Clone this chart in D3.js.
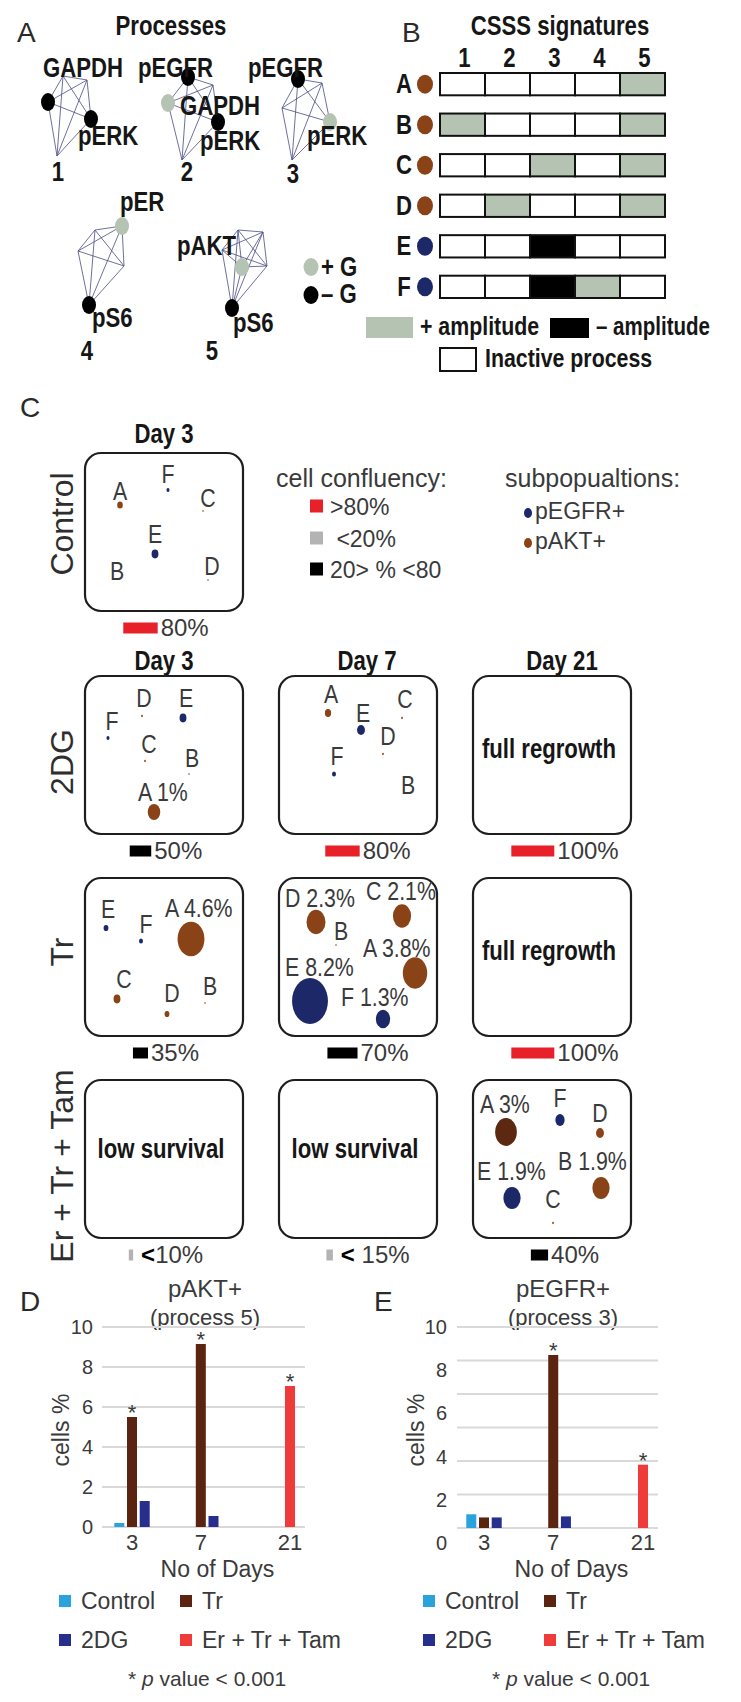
<!DOCTYPE html>
<html>
<head>
<meta charset="utf-8">
<script src="https://cdn.jsdelivr.net/npm/d3@7"></script>
<style>
  body { margin: 0; background: #fff; }
  svg { display: block; font-family: 'Liberation Sans', Arial, sans-serif; }
</style>
</head>
<body>
<script>
// ---------- data ----------
// A: processes and the markers in each one (sign of the G weight)
const processIds = ['1', '2', '3', '4', '5']
const processMarkers = [
  [['GAPDH', '-'], ['pERK', '-']],
  [['pEGFR', '-'], ['GAPDH', '+'], ['pERK', '-']],
  [['pEGFR', '-'], ['pERK', '+']],
  [['pER', '+'], ['pS6', '-']],
  [['pAKT', '+'], ['pS6', '-']]
]

// B: CSSS signatures, 1 = + amplitude, -1 = - amplitude, 0 = inactive
const subpops = ['A', 'B', 'C', 'D', 'E', 'F']
const subpopKind = ['pAKT+', 'pAKT+', 'pAKT+', 'pAKT+', 'pEGFR+', 'pEGFR+']
const signatures = [
  [0, 0, 0, 0, 1],
  [1, 0, 0, 0, 1],
  [0, 0, 1, 0, 1],
  [0, 1, 0, 0, 1],
  [0, 0, -1, 0, 0],
  [0, 0, -1, 1, 0]
]

// C: treatments x days, confluency (%) and subpopulation shares (% cells, order A..F)
const treatments = ['Control', '2DG', 'Tr', 'Er + Tr + Tam']
const dayLabels = ['Day 3', 'Day 7', 'Day 21']
const confluency = [[80], [50, 80, 100], [35, 70, 100], [10, 15, 40]]
const confluencyText = [['80%'], ['50%', '80%', '100%'], ['35%', '70%', '100%'], ['<10%', '< 15%', '40%']]
const wellNotes = [[null], [null, null, 'full regrowth'], [null, null, 'full regrowth'], ['low survival', 'low survival', null]]
const ctrlDay3 = [0.2, 0, 0.01, 0.01, 0.3, 0.06]
const dgDay3 = [1, 0.005, 0.02, 0.02, 0.3, 0.06]
const dgDay7 = [0.25, 0, 0.02, 0.02, 0.4, 0.1]
const trDay3 = [4.6, 0.01, 0.3, 0.15, 0.15, 0.1]
const trDay7 = [3.8, 0.01, 2.1, 2.3, 8.2, 1.3]
const ettDay21 = [3, 1.9, 0.02, 0.4, 1.9, 0.55]

// D / E: cells % per day and treatment (null = not measured)
const days = [3, 7, 21]
const seriesNames = ['Control', 'Tr', '2DG', 'Er + Tr + Tam']
const aktControl = [0.2, 0, null]
const aktTr = [5.5, 9.15, null]
const akt2DG = [1.3, 0.55, null]
const aktEtt = [null, null, 7.05]
const egfrControl = [0.65, 0, null]
const egfrTr = [0.5, 8.2, null]
const egfr2DG = [0.5, 0.55, null]
const egfrEtt = [null, null, 3.0]
const aktStars = [['Tr', 3], ['Tr', 7], ['Er + Tr + Tam', 21]]
const egfrStars = [['Tr', 7], ['Er + Tr + Tam', 21]]

// ---------- layout ----------
const W = 741, H = 1702
const green = '#b5c3b3', brown = '#8a4217', deepBrown = '#5c2811', navy = '#1d2868'
const red = '#e8202a', grey = '#b3b3b3'
const textDark = '#161616', textSoft = '#3a3a3a'

// condensed face if the narrow Liberation cut is there, else squeeze the regular one
const probe = document.createElement('canvas').getContext('2d')
const probeWidth = f => { probe.font = `40px ${f}`; return probe.measureText('abcdefghijklmnopqrstuvwxyz').width }
const hasNarrow = probeWidth("'Liberation Sans Narrow', monospace") !== probeWidth('monospace')
const NARROW = hasNarrow ? "'Liberation Sans Narrow', 'Liberation Sans', sans-serif" : "'Liberation Sans', sans-serif"
const condense = sel => {
  sel.attr('font-family', NARROW)
  if (!hasNarrow) sel.each(function () {
    this.setAttribute('textLength', this.getComputedTextLength() * 0.82)
    this.setAttribute('lengthAdjust', 'spacingAndGlyphs')
  })
  return sel
}

const svg = d3.select('body').append('svg')
  .attr('width', W).attr('height', H).attr('viewBox', `0 0 ${W} ${H}`)
svg.append('rect').attr('width', W).attr('height', H).attr('fill', '#fff')

const text = (g, x, y, s, o = {}) => {
  const t = g.append('text')
    .attr('x', x).attr('y', y)
    .attr('font-size', o.size || (o.narrow ? 27 : 22))
    .attr('font-weight', o.bold ? 700 : 400)
    .attr('text-anchor', o.anchor || 'start')
    .attr('fill', o.fill || (o.bold ? textDark : textSoft))
    .text(s)
  return o.narrow ? condense(t) : t
}
const bold = (g, x, y, s, anchor, size) => text(g, x, y, s, { bold: true, narrow: true, anchor, size })

// panel letters
;[['A', 17, 42], ['B', 402, 42], ['C', 20, 417], ['D', 20, 1311], ['E', 374, 1311]]
  .forEach(([s, x, y]) => text(svg, x, y, s, { size: 28, fill: '#2a2a2a' }))

// ---------- A: process networks ----------
const netLayout = [
  { verts: [[48, 102, 0], [63, 76], [87, 80], [91, 119, 1], [57, 156]], labels: [[43, 77], [78, 145]], id: [58, 181] },
  { verts: [[188, 77, 0], [213, 85], [168, 103, 1], [218, 122, 2], [182, 160]], labels: [[138, 77], [180, 115], [200, 150]], id: [187, 181] },
  { verts: [[298, 79, 0], [322, 83], [282, 108], [330, 122, 1], [292, 160]], labels: [[248, 77], [307, 145]], id: [293, 183] },
  { verts: [[95, 230], [122, 226, 0], [78, 251], [124, 266], [89, 305, 1]], labels: [[120, 211], [92, 327]], id: [87, 360] },
  { verts: [[238, 230], [263, 232], [222, 250], [242, 267, 0], [267, 266], [232, 308, 1]], labels: [[177, 255], [233, 332]], id: [212, 360] }
]

const gA = svg.append('g')
bold(gA, 171, 35, 'Processes', 'middle')

processIds.forEach((pid, i) => {
  const lay = netLayout[i]
  const markers = processMarkers[i]
  const edges = d3.cross(lay.verts, lay.verts).filter(([a, b]) => lay.verts.indexOf(a) < lay.verts.indexOf(b))
  const g = gA.append('g')
  g.selectAll('line').data(edges).join('line')
    .attr('x1', d => d[0][0]).attr('y1', d => d[0][1])
    .attr('x2', d => d[1][0]).attr('y2', d => d[1][1])
    .attr('stroke', '#56568c').attr('stroke-width', 1).attr('stroke-opacity', 0.85)
  g.selectAll('ellipse').data(lay.verts.filter(v => v[2] != null)).join('ellipse')
    .attr('cx', d => d[0]).attr('cy', d => d[1]).attr('rx', 7).attr('ry', 9)
    .attr('fill', d => markers[d[2]][1] === '+' ? green : '#000')
  markers.forEach(([name], k) => bold(g, lay.labels[k][0], lay.labels[k][1], name))
  bold(g, lay.id[0], lay.id[1], pid, 'middle')
})

// sign legend
;[['+', green, 267, 276], ['–', '#000', 295, 303]].forEach(([s, c, cy, ty]) => {
  gA.append('ellipse').attr('cx', 311).attr('cy', cy).attr('rx', 7.5).attr('ry', 9).attr('fill', c)
  bold(gA, 321, ty, `${s} G`)
})

// ---------- B: CSSS signatures ----------
const gB = svg.append('g')
const xB = d3.scaleBand().domain(processIds).range([440, 665])
const yB = d3.scaleBand().domain(subpops).range([73, 298]).paddingInner(0.45)

bold(gB, 560, 35, 'CSSS signatures', 'middle')
processIds.forEach(p => bold(gB, xB(p) + xB.bandwidth() / 2 + 2, 67, p, 'middle'))

subpops.forEach((s, i) => {
  const y0 = yB(s), h = yB.bandwidth()
  bold(gB, 404, y0 + h / 2 + 9, s, 'middle')
  gB.append('ellipse')
    .attr('cx', 425).attr('cy', y0 + h / 2).attr('rx', 8).attr('ry', 9.5)
    .attr('fill', subpopKind[i] === 'pAKT+' ? brown : navy)
  gB.selectAll(null).data(signatures[i].map((v, j) => ({ v, p: processIds[j] }))).join('rect')
    .attr('x', d => xB(d.p)).attr('y', y0).attr('width', xB.bandwidth()).attr('height', h)
    .attr('fill', d => d.v > 0 ? green : d.v < 0 ? '#000' : '#fff')
    .attr('stroke', '#111').attr('stroke-width', 2)
})

gB.append('rect').attr('x', 366).attr('y', 317).attr('width', 47).attr('height', 21).attr('fill', green)
bold(gB, 420, 335, '+ amplitude', 'start', 26)
gB.append('rect').attr('x', 550).attr('y', 318).attr('width', 39).attr('height', 20).attr('fill', '#000')
bold(gB, 596, 335, '– amplitude', 'start', 25)
gB.append('rect').attr('x', 440).attr('y', 348).attr('width', 36).attr('height', 23)
  .attr('fill', '#fff').attr('stroke', '#111').attr('stroke-width', 2)
bold(gB, 485, 367, 'Inactive process', 'start', 26)

// ---------- C: wells ----------
const gC = svg.append('g')
const boxSize = 158
const xC = d3.scalePoint().domain(dayLabels).range([85, 473])
const rowTop = [453, 676, 878, 1080]
const rowLabelY = [524, 762, 952, 1166]
const headerShift = [0, 9, 10]
const share = d3.scaleSqrt().domain([0, 8.2]).range([0, 23])
const confW = d3.scaleLinear().domain([0, 100]).range([0, 43])
const confColor = v => v >= 80 ? red : v < 20 ? grey : '#000'

// bubble layout inside each well: [dotX, dotY, labelX, labelY], order A..F
const posCtrl3 = [[35, 52, 35, 47], [32, 127, 32, 127], [118, 58, 123, 54], [123, 127, 127, 122], [70, 101, 70, 90], [83, 37, 83, 30]]
const posDg3 = [[69, 136, 53, 125], [104, 98, 107, 91], [60, 85, 64, 77], [57, 40, 59, 31], [98, 42, 101, 31], [23, 62, 27, 54]]
const posDg7 = [[49, 37, 52, 27], [129, 124, 129, 118], [123, 42, 126, 32], [104, 78, 109, 69], [82, 54, 84, 46], [55, 98, 58, 89]]
const posTr3 = [[106, 61, 80, 39], [120, 125, 125, 117], [32, 121, 39, 110], [82, 136, 87, 124], [21, 50, 23, 40], [56, 63, 61, 55]]
const posTr7 = [[136, 95, 84, 79], [57, 67, 62, 62], [123, 38, 87, 22], [37, 44, 6, 29], [31, 123, 6, 98], [104, 141, 62, 128]]
const posEtt21 = [[33, 52, 7, 33], [128, 108, 85, 90], [80, 143, 80, 128], [127, 53, 127, 42], [39, 118, 4, 100], [87, 40, 87, 27]]

const wells = [
  { t: 0, d: 0, shares: ctrlDay3, pos: posCtrl3 },
  { t: 1, d: 0, shares: dgDay3, pos: posDg3 },
  { t: 1, d: 1, shares: dgDay7, pos: posDg7 },
  { t: 2, d: 0, shares: trDay3, pos: posTr3 },
  { t: 2, d: 1, shares: trDay7, pos: posTr7 },
  { t: 3, d: 2, shares: ettDay21, pos: posEtt21, deep: ['A'] }
]

// headers
bold(gC, xC('Day 3') + boxSize / 2, 443, 'Day 3', 'middle')
dayLabels.forEach((d, i) => bold(gC, xC(d) + boxSize / 2 + headerShift[i], 670, d, 'middle'))

// row labels
treatments.forEach((t, i) => {
  gC.append('text')
    .attr('transform', `translate(73,${rowLabelY[i]}) rotate(-90)`)
    .attr('text-anchor', 'middle').attr('font-size', 32).attr('fill', '#2e2e2e')
    .text(t)
})

// boxes, notes and confluency bars
treatments.forEach((t, ti) => {
  confluency[ti].forEach((v, di) => {
    const x0 = xC(dayLabels[di]), y0 = rowTop[ti]
    gC.append('rect')
      .attr('x', x0).attr('y', y0).attr('width', boxSize).attr('height', boxSize)
      .attr('rx', 16).attr('fill', '#fff').attr('stroke', '#1e1e1e').attr('stroke-width', 2.2)
    const note = wellNotes[ti][di]
    if (note) bold(gC, x0 + boxSize / 2 - 3, y0 + (ti === 3 ? 78 : 82), note, 'middle')

    const cy = y0 + boxSize + 17
    const label = confluencyText[ti][di]
    const lab = gC.append('text').attr('y', cy + 8).attr('font-size', 24).attr('fill', textSoft)
    if (label.startsWith('<')) {
      lab.append('tspan').attr('font-weight', 700).attr('fill', '#000').text('<')
      lab.append('tspan').text(label.slice(1))
    } else lab.text(label)
    const bw = confW(v)
    const tw = lab.node().getComputedTextLength()
    const gap = label.startsWith('<') ? 8 : 3
    const start = x0 + boxSize / 2 + [2, 10, 13][di] - (bw + gap + tw) / 2
    gC.append('rect').attr('x', start).attr('y', cy - 5.5).attr('width', bw).attr('height', 11)
      .attr('fill', confColor(v))
    lab.attr('x', start + bw + gap)
  })
})

// subpopulation bubbles
wells.forEach(w => {
  const x0 = xC(dayLabels[w.d]), y0 = rowTop[w.t]
  const items = subpops.map((s, i) => ({ s, v: w.shares[i], p: w.pos[i], kind: subpopKind[i] }))
  const g = gC.append('g').attr('transform', `translate(${x0},${y0})`)
  g.selectAll('ellipse').data(items.filter(d => d.v > 0)).join('ellipse')
    .attr('cx', d => d.p[0]).attr('cy', d => d.p[1])
    .attr('ry', d => Math.max(0.8, share(d.v)))
    .attr('rx', d => Math.max(0.8, share(d.v) * 0.78))
    .attr('fill', d => (w.deep || []).includes(d.s) ? deepBrown : d.kind === 'pAKT+' ? brown : navy)
  items.forEach(d => text(g, d.p[2], d.p[3], d.v >= 1 ? `${d.s} ${d.v}%` : d.s,
    { narrow: true, size: 26, anchor: d.v >= 1 ? 'start' : 'middle' }))
})

// legends
text(gC, 276, 487, 'cell confluency:', { size: 25 })
;[[red, '>80%', 506], [grey, ' <20%', 538], ['#000', '20> % <80', 569]].forEach(([c, s, cy]) => {
  gC.append('rect').attr('x', 310).attr('y', cy - 6.5).attr('width', 13).attr('height', 13).attr('fill', c)
  text(gC, 330, cy + 9, s, { size: 23 }).attr('xml:space', 'preserve')
})
text(gC, 505, 487, 'subpopualtions:', { size: 25 })
;[[navy, 'pEGFR+', 513], [brown, 'pAKT+', 543]].forEach(([c, s, cy]) => {
  gC.append('ellipse').attr('cx', 528).attr('cy', cy).attr('rx', 4).attr('ry', 5).attr('fill', c)
  text(gC, 535, cy + 6, s, { size: 23 })
})

// ---------- D / E: bar charts ----------
const seriesColor = d3.scaleOrdinal().domain(seriesNames).range(['#2aa3dc', '#5b2410', '#262e8e', '#f03b3b'])

function barChart(cfg) {
  const g = svg.append('g')
  text(g, cfg.titleX, 1297, cfg.title, { size: 24, anchor: 'middle' })
  text(g, cfg.titleX, 1325, cfg.sub, { size: 22, anchor: 'middle' })

  g.selectAll('line.grid').data(cfg.grid.ticks(cfg.gridCount)).join('line')
    .attr('x1', cfg.gx[0]).attr('x2', cfg.gx[1])
    .attr('y1', d => cfg.grid(d)).attr('y2', d => cfg.grid(d))
    .attr('stroke', '#d9d9d9').attr('stroke-width', 2)

  g.selectAll('text.ytick').data(cfg.lab.ticks(5)).join('text')
    .attr('x', cfg.labX).attr('y', d => cfg.lab(d)).attr('dy', '0.35em')
    .attr('text-anchor', 'end').attr('font-size', 20).attr('fill', textSoft)
    .text(d => d)

  g.append('text')
    .attr('transform', `translate(${cfg.gx[0] - 33},1430) rotate(-90)`)
    .attr('text-anchor', 'middle').attr('font-size', 23).attr('fill', textSoft)
    .text('cells %')

  const bars = []
  days.forEach((day, i) => {
    const present = seriesNames.map((s, k) => ({ s, v: cfg.values[k][i], day })).filter(d => d.v != null)
    present.forEach((d, j) => { d.off = (j - (present.length - 1) / 2) * 12.7; bars.push(d) })
  })
  g.selectAll('rect.bar').data(bars).join('rect')
    .attr('x', d => cfg.x(d.day) + d.off - 5).attr('width', 10)
    .attr('y', d => cfg.y(d.v)).attr('height', d => cfg.y(0) - cfg.y(d.v))
    .attr('fill', d => seriesColor(d.s))

  const starBars = cfg.stars.map(([s, day]) => bars.find(b => b.s === s && b.day === day))
  g.selectAll('text.star').data(starBars).join('text')
    .attr('x', d => cfg.x(d.day) + d.off).attr('y', d => cfg.y(d.v) + 3)
    .attr('text-anchor', 'middle').attr('font-size', 22).attr('fill', textSoft)
    .text('*')

  g.selectAll('text.day').data(days).join('text')
    .attr('x', d => cfg.x(d)).attr('y', 1550)
    .attr('text-anchor', 'middle').attr('font-size', 22).attr('fill', textSoft)
    .text(d => d)
  text(g, (cfg.gx[0] + cfg.gx[1]) / 2 + 14, 1577, 'No of Days', { size: 23, anchor: 'middle' })

  seriesNames.forEach((s, i) => {
    const lx = cfg.legendX + (i % 2) * 121, ly = i < 2 ? 1601 : 1640
    g.append('rect').attr('x', lx).attr('y', ly - 6).attr('width', 12).attr('height', 12).attr('fill', seriesColor(s))
    text(g, lx + 22, ly + 8, s, { size: 23 })
  })

  const pv = g.append('text').attr('x', cfg.legendX + 69).attr('y', 1686).attr('font-size', 21).attr('fill', textSoft)
  pv.append('tspan').text('* ')
  pv.append('tspan').attr('font-style', 'italic').text('p')
  pv.append('tspan').text(' value < 0.001')
}

const yD = d3.scaleLinear().domain([0, 10]).range([1527, 1327])
barChart({
  title: 'pAKT+', sub: '(process 5)', titleX: 205,
  x: d3.scaleLog().domain([3, 21]).range([132, 290]),
  y: yD, grid: yD, gridCount: 5, lab: yD, labX: 93, gx: [102, 305],
  values: [aktControl, aktTr, akt2DG, aktEtt], stars: aktStars, legendX: 59
})

barChart({
  title: 'pEGFR+', sub: '(process 3)', titleX: 563,
  x: d3.scaleLog().domain([3, 21]).range([484, 643]),
  y: d3.scaleLinear().domain([0, 10]).range([1528, 1317]),
  grid: d3.scaleLinear().domain([0, 12]).range([1528, 1327]), gridCount: 6,
  lab: d3.scaleLinear().domain([0, 10]).range([1543, 1327]), labX: 447, gx: [457, 658],
  values: [egfrControl, egfrTr, egfr2DG, egfrEtt], stars: egfrStars, legendX: 423
})
</script>
</body>
</html>
